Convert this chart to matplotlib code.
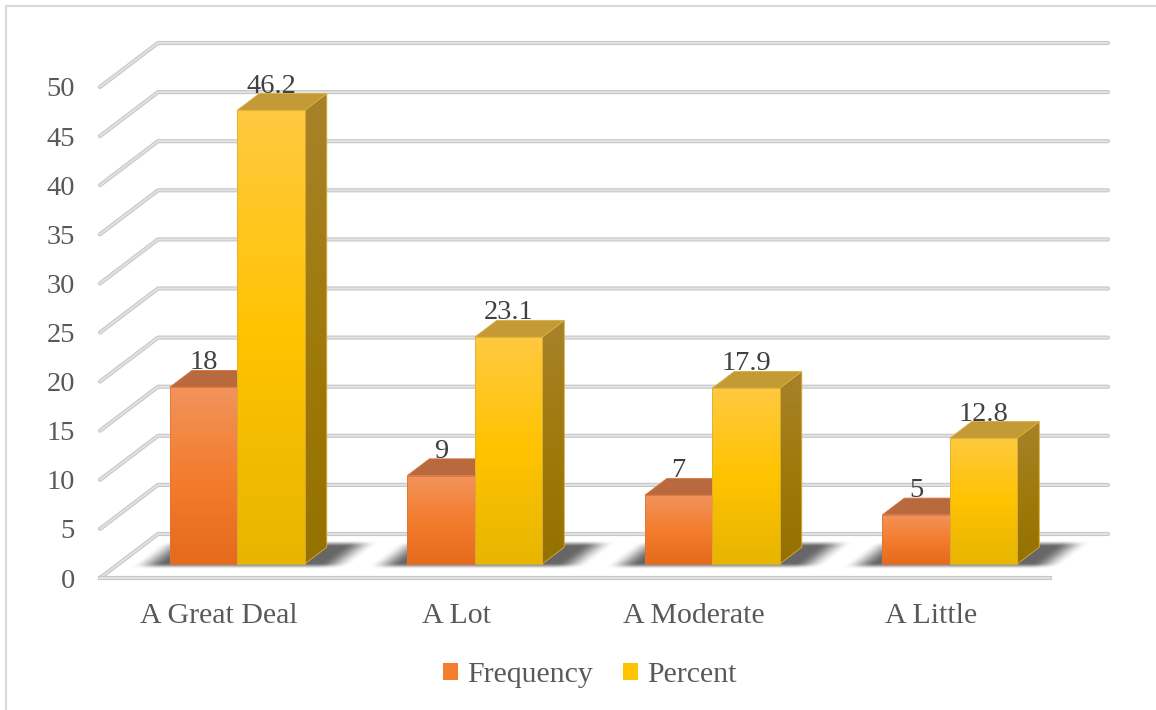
# 3D-look clustered column chart (Excel style) drawn on a flat axes
import numpy as np
import matplotlib.pyplot as plt
from matplotlib.patches import Polygon, Patch, Rectangle
from matplotlib.colors import LinearSegmentedColormap
from matplotlib.transforms import Affine2D

categories = ['A Great Deal', 'A Lot', 'A Moderate', 'A Little']
frequency = [18, 9, 7, 5]
percent = [46.2, 23.1, 17.9, 12.8]
series_names = ['Frequency', 'Percent']
yticks = list(range(0, 51, 5))

plt.rcParams['font.family'] = ['Liberation Serif', 'DejaVu Serif']

W, H = 1156, 710
fig = plt.figure(figsize=(W / 100, H / 100), dpi=100)
# axes: front floor edge spans px 100..1050, value 0 at px 578, value 50 at px 87
ax = fig.add_axes([100 / W, (H - 578) / H, 950 / W, 491 / H])
ax.set_facecolor('none')
for s in ax.spines.values():
    s.set_visible(False)

n = len(categories)
x0, x1 = -0.5, n - 0.5
DX = 58 / 237.5          # depth of the box, category units
DY = 44 / 9.82           # depth of the box, value units
F0, FD = 0.32, 0.38      # bar front depth and bar thickness (fractions of box depth)
BW = 0.284               # bar width


def P(x, v, d):
    return (x + d * DX, v + d * DY)


# gridlines (left wall + back wall)
for v in yticks:
    pts = np.array([P(x0, v, 0), P(x0, v, 1), P(x1, v, 1)])
    ax.plot(pts[:, 0], pts[:, 1], color='#c8c8c8', lw=3.0, solid_capstyle='round', zorder=1, clip_on=False)
    ax.plot(pts[:, 0], pts[:, 1], color='#e2e2e2', lw=1.4, solid_capstyle='round', zorder=1, clip_on=False)
fl = np.array([P(x0, 0, 0), P(x1, 0, 0)])
ax.plot(fl[:, 0], fl[:, 1], color='#c8c8c8', lw=3.0, zorder=1, clip_on=False)
ax.plot(fl[:, 0], fl[:, 1], color='#e2e2e2', lw=1.4, zorder=1, clip_on=False)

orange_front = LinearSegmentedColormap.from_list('of', ['#e56a1c', '#f47d2e', '#f2935c'])
yellow_front = LinearSegmentedColormap.from_list('yf', ['#e7b500', '#ffc300', '#ffc940'])
yellow_side = LinearSegmentedColormap.from_list('ys', ['#957100', '#9f7a0c', '#a8822a'])
orange_side = LinearSegmentedColormap.from_list('os', ['#a9511a', '#b25d28', '#b8693d'])
grad = np.linspace(0, 1, 256).reshape(-1, 1)


def face(poly_pts, cmap, zo):
    poly = Polygon(poly_pts, closed=True, facecolor='none', edgecolor='none', zorder=zo)
    ax.add_patch(poly)
    xs = [p[0] for p in poly_pts]
    ys = [p[1] for p in poly_pts]
    im = ax.imshow(grad, cmap=cmap, origin='lower', aspect='auto', interpolation='bilinear',
                   extent=[min(xs), max(xs), min(ys), max(ys)], zorder=zo)
    im.set_clip_path(poly)


def bar3d(xl, v, front_cmap, top_col, side_cmap, edge):
    xr = xl + BW
    side = [P(xr, 0, F0), P(xr, 0, F0 + FD), P(xr, v, F0 + FD), P(xr, v, F0)]
    face(side, side_cmap, 3)
    ax.add_patch(Polygon(side, closed=True, fill=False, ec=edge, lw=0.6, zorder=3.1))
    top = [P(xl, v, F0), P(xr, v, F0), P(xr, v, F0 + FD), P(xl, v, F0 + FD)]
    ax.add_patch(Polygon(top, closed=True, fc=top_col, ec=edge, lw=0.6, zorder=3.1))
    front = [P(xl, 0, F0), P(xr, 0, F0), P(xr, v, F0), P(xl, v, F0)]
    face(front, front_cmap, 3.2)
    ax.add_patch(Polygon(front, closed=True, fill=False, ec=edge, lw=0.6, zorder=3.3))


def ramp(t, a, b, w):
    # 1 inside [a, b], smooth fall-off of width w outside
    lo = np.clip((t - (a - w)) / w, 0, 1)
    hi = np.clip(((b + w) - t) / w, 0, 1)
    f = np.minimum(lo, hi)
    return f * f * (3 - 2 * f)


# soft floor shadow, drawn in floor coordinates (x, depth) and sheared onto the floor
shear = Affine2D.from_values(1, 0, DX, DY, 0, 0)
sx = np.linspace(x0, x1 + 0.3, 900)
sd = np.linspace(0, 1, 120)
SX, SD = np.meshgrid(sx, sd)
alpha = np.zeros_like(SX)
for i in range(n):
    fx = ramp(SX, i - BW - 0.02, i + BW + 0.06, 0.14)
    fdd = ramp(SD, F0 + 0.02, F0 + FD + 0.02, 0.14)
    alpha = np.maximum(alpha, fx * fdd)
rgba = np.zeros(SX.shape + (4,))
rgba[..., 3] = 0.6 * alpha
im = ax.imshow(rgba, origin='lower', extent=[sx[0], sx[-1], 0, 1], aspect='auto',
               interpolation='bilinear', zorder=2)
im.set_transform(shear + ax.transData)
im.set_clip_on(False)

lab_kw = dict(ha='center', va='baseline', fontsize=20.5, color='#404040', zorder=5)
for i in range(n):
    bar3d(i - BW, frequency[i], orange_front, '#b8693e', orange_side, '#d9773a')
    bar3d(i, percent[i], yellow_front, '#c49a36', yellow_side, '#d8b03a')
    for xl, v in [(i - BW, frequency[i]), (i, percent[i])]:
        cx, cy = P(xl + BW / 2, v, F0)
        ax.text(cx, v + (F0 + FD) * DY + 0.1, f'{v:g}', **lab_kw)

ax.set_xlim(x0, x1)
ax.set_ylim(0, 50)
ax.set_yticks(yticks)
ax.set_yticklabels([str(t) for t in yticks], fontsize=20.5, color='#595959')
ax.set_xticks(range(n))
ax.set_xticklabels(categories, fontsize=21.5, color='#595959')
ax.tick_params(axis='y', length=0, pad=18)
ax.tick_params(axis='x', length=0, pad=18)

handles = [Patch(fc='#f47d2e', ec='none'), Patch(fc='#ffc300', ec='none')]
fig.legend(handles, series_names, loc='center', bbox_to_anchor=(590 / W, (H - 675) / H),
           ncol=2, frameon=False, fontsize=21.5, handlelength=0.5, handleheight=0.5,
           handletextpad=0.3, columnspacing=1.0, labelcolor='#595959')

fig.add_artist(Rectangle((6 / W, -0.02), 1.1, (H - 6) / H + 0.02, transform=fig.transFigure,
                         fill=False, ec='#d9d9d9', lw=1.5))

fig.savefig('out.png', dpi=100, facecolor='white')
